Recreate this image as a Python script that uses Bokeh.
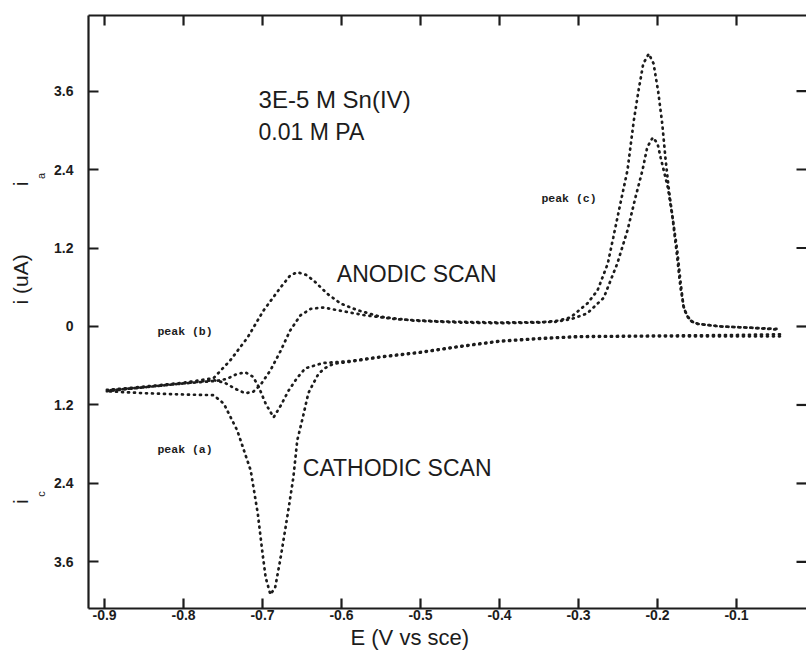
import math
from bokeh.plotting import figure
from bokeh.models import LinearAxis, FixedTicker, Range1d, Label, Title
from bokeh.embed import file_html
from bokeh.resources import INLINE

# ---- data ----
# cycle 1 (large peaks): cathodic scan, right -> left
c1_cathodic = [(-0.045, -0.15), (-0.10, -0.15), (-0.20, -0.15), (-0.30, -0.16), (-0.35, -0.19),
               (-0.40, -0.23), (-0.45, -0.31), (-0.50, -0.40), (-0.55, -0.47), (-0.59, -0.54),
               (-0.61, -0.57), (-0.62, -0.63), (-0.629, -0.72), (-0.637, -0.90), (-0.642, -1.02),
               (-0.649, -1.39), (-0.656, -1.74), (-0.661, -2.31), (-0.668, -2.86), (-0.677, -3.53),
               (-0.684, -3.99), (-0.690, -4.10), (-0.696, -3.84), (-0.700, -3.47), (-0.706, -2.86),
               (-0.715, -2.20), (-0.732, -1.59), (-0.749, -1.18), (-0.762, -1.05), (-0.80, -1.04),
               (-0.85, -1.02), (-0.897, -0.99)]
# cycle 1: anodic scan, left -> right
c1_anodic = [(-0.897, -0.97), (-0.85, -0.92), (-0.80, -0.86), (-0.762, -0.79), (-0.741, -0.52),
             (-0.719, -0.17), (-0.699, 0.24), (-0.677, 0.60), (-0.665, 0.78), (-0.656, 0.83),
             (-0.645, 0.79), (-0.635, 0.70), (-0.618, 0.50), (-0.601, 0.35), (-0.58, 0.25),
             (-0.551, 0.15), (-0.509, 0.09), (-0.45, 0.06), (-0.40, 0.05), (-0.35, 0.06),
             (-0.325, 0.09), (-0.310, 0.14), (-0.289, 0.35), (-0.276, 0.55), (-0.263, 0.96),
             (-0.256, 1.36), (-0.247, 1.88), (-0.238, 2.39), (-0.230, 3.15), (-0.224, 3.61),
             (-0.218, 4.02), (-0.211, 4.17), (-0.205, 4.02), (-0.199, 3.58), (-0.194, 3.10),
             (-0.190, 2.58), (-0.186, 2.13), (-0.181, 1.67), (-0.175, 1.05), (-0.171, 0.60),
             (-0.166, 0.25), (-0.158, 0.08), (-0.149, 0.04), (-0.12, 0.00), (-0.08, -0.02),
             (-0.045, -0.04)]
# cycle 2 (smaller peaks): cathodic scan, right -> left
c2_cathodic = [(-0.045, -0.12), (-0.10, -0.13), (-0.20, -0.14), (-0.30, -0.15), (-0.35, -0.18),
               (-0.40, -0.22), (-0.45, -0.30), (-0.50, -0.39), (-0.55, -0.46), (-0.59, -0.53),
               (-0.624, -0.56), (-0.646, -0.64), (-0.657, -0.80), (-0.667, -0.98), (-0.677, -1.21),
               (-0.686, -1.39), (-0.696, -1.18), (-0.705, -0.92), (-0.712, -0.77), (-0.722, -0.70),
               (-0.733, -0.73), (-0.745, -0.80), (-0.757, -0.83), (-0.80, -0.87), (-0.85, -0.93),
               (-0.897, -0.98)]
# cycle 2: anodic scan, left -> right
c2_anodic = [(-0.897, -0.99), (-0.85, -0.93), (-0.80, -0.87), (-0.762, -0.82), (-0.748, -0.86),
             (-0.735, -0.95), (-0.722, -1.02), (-0.712, -1.00), (-0.703, -0.90), (-0.690, -0.67),
             (-0.677, -0.37), (-0.665, -0.06), (-0.652, 0.17), (-0.639, 0.27), (-0.623, 0.29),
             (-0.601, 0.24), (-0.57, 0.17), (-0.53, 0.11), (-0.48, 0.08), (-0.40, 0.06),
             (-0.33, 0.07), (-0.31, 0.11), (-0.289, 0.20), (-0.268, 0.44), (-0.251, 0.96),
             (-0.238, 1.47), (-0.228, 1.97), (-0.219, 2.39), (-0.213, 2.74), (-0.206, 2.89),
             (-0.200, 2.80), (-0.196, 2.58), (-0.187, 2.13), (-0.181, 1.67), (-0.175, 1.16),
             (-0.171, 0.70), (-0.167, 0.29), (-0.160, 0.10), (-0.149, 0.04), (-0.12, 0.00),
             (-0.08, -0.02), (-0.045, -0.05)]

x_ticks = [-0.9, -0.8, -0.7, -0.6, -0.5, -0.4, -0.3, -0.2, -0.1]
x_tick_labels = ["-0.9", "-0.8", "-0.7", "-0.6", "-0.5", "-0.4", "-0.3", "-0.2", "-0.1"]
y_ticks = [-3.6, -2.4, -1.2, 0, 1.2, 2.4, 3.6]
y_tick_labels = ["3.6", "2.4", "1.2", "0", "1.2", "2.4", "3.6"]

x_label = "E (V vs sce)"
# the vertical axis title and the i_a / i_c marks beside it: (position, text)
y_title_parts = [(2.18, "i"), (0.72, "i (uA)"), (-2.68, "i")]
y_subscripts = [(2.30, "a"), (-2.56, "c")]

notes = [("3E-5 M  Sn(IV)", -0.705, 3.47, "24px", "Liberation Sans", "normal"),
         ("0.01 M PA", -0.705, 2.98, "23px", "Liberation Sans", "normal"),
         ("ANODIC  SCAN", -0.606, 0.81, "23px", "Liberation Sans", "normal"),
         ("CATHODIC  SCAN", -0.649, -2.16, "23px", "Liberation Sans", "normal"),
         ("peak (c)", -0.347, 1.96, "11.5px", "Liberation Mono", "bold"),
         ("peak (b)", -0.833, -0.08, "11.5px", "Liberation Mono", "bold"),
         ("peak (a)", -0.833, -1.88, "11.5px", "Liberation Mono", "bold")]

INK = "#1c1c1c"
X0, X1 = -0.9203, -0.0114
Y0, Y1 = -4.312, 4.755
PX_PER_X = 790.0   # pixels per volt
PX_PER_Y = 65.4    # pixels per uA
TICK = 10          # tick length, pixels

p = figure(width=806, height=652, output_backend="svg", toolbar_location=None,
           x_range=Range1d(X0, X1), y_range=Range1d(Y0, Y1),
           x_axis_location=None, y_axis_location=None,
           min_border_left=88, min_border_right=0, min_border_top=15, min_border_bottom=44)
for g in p.grid:
    g.visible = False
p.outline_line_color = None
p.background_fill_color = "white"
p.border_fill_color = "white"


def make_axis(ticks, labels):
    ax = LinearAxis(ticker=FixedTicker(ticks=ticks),
                    major_label_overrides=dict(zip(ticks, labels)))
    ax.major_tick_in = TICK
    ax.major_tick_out = 0
    ax.minor_tick_in = 0
    ax.minor_tick_out = 0
    ax.axis_line_width = 2.2
    ax.axis_line_color = INK
    ax.major_tick_line_width = 2.2
    ax.major_tick_line_color = INK
    ax.major_label_text_font = "Liberation Sans"
    ax.major_label_text_font_style = "bold"
    ax.major_label_text_color = INK
    ax.major_label_text_font_size = "14px"
    return ax


def text_axis(parts, size, standoff):
    ticks = [t for t, _ in parts]
    ax = LinearAxis(ticker=FixedTicker(ticks=ticks),
                    major_label_overrides={t: s for t, s in parts})
    ax.axis_line_color = None
    ax.major_tick_line_color = None
    ax.minor_tick_line_color = None
    ax.major_tick_in = 0
    ax.major_tick_out = 0
    ax.minor_tick_in = 0
    ax.minor_tick_out = 0
    ax.major_label_orientation = "vertical"
    ax.major_label_standoff = standoff
    ax.major_label_text_font = "Liberation Sans"
    ax.major_label_text_font_size = size
    ax.major_label_text_color = INK
    return ax


bottom = make_axis(x_ticks, x_tick_labels)
bottom.major_label_standoff = 1
left = make_axis(y_ticks, y_tick_labels)
left.major_label_standoff = 15
top = make_axis([], [])
p.add_layout(bottom, "below")
p.add_layout(left, "left")
p.add_layout(top, "above")
p.add_layout(text_axis(y_subscripts, "11px", 4), "left")
p.add_layout(text_axis(y_title_parts, "21px", 0), "left")

p.add_layout(Title(text=x_label, align="left", offset=262, standoff=0,
                   text_font_size="22px", text_font="Liberation Sans",
                   text_font_style="normal", text_color=INK), "below")

# inward tick marks on the top and right edges (no labels there)
p.segment(x0=x_ticks, y0=[Y1] * len(x_ticks), x1=x_ticks,
          y1=[Y1 - TICK / PX_PER_Y] * len(x_ticks), line_color=INK, line_width=2.2)
p.segment(x0=[X1] * len(y_ticks), y0=y_ticks, x1=[X1 - TICK / PX_PER_X] * len(y_ticks),
          y1=y_ticks, line_color=INK, line_width=2.2)

for trace in (c1_cathodic, c1_anodic, c2_cathodic, c2_anodic):
    xs = [pt[0] for pt in trace]
    ys = [pt[1] for pt in trace]
    p.line(xs, ys, line_color=INK, line_width=2.7, line_dash="1 5", line_cap="round")

for txt, x, y, size, font, style in notes:
    p.add_layout(Label(x=x, y=y, text=txt, text_font_size=size, text_font=font,
                       text_font_style=style, text_color=INK, text_baseline="middle",
                       text_align="left"))

open("out.html", "w").write(file_html(p, INLINE))
